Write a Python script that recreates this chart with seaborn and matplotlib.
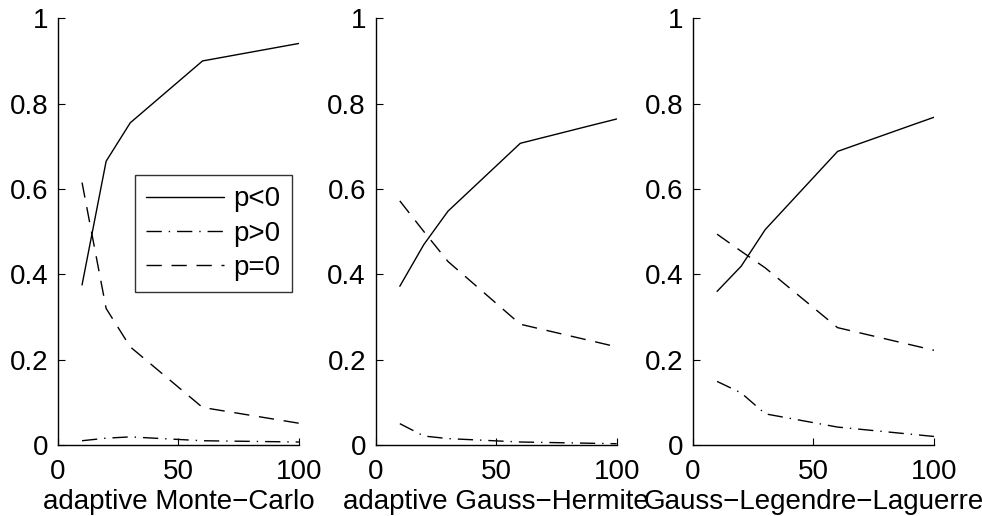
import pandas as pd
import matplotlib
matplotlib.use('Agg')
import matplotlib.pyplot as plt
import seaborn as sns

# sample sizes on the x axis
n = [10, 20, 30, 60, 100]

# adaptive Monte-Carlo
mc_neg = [0.375, 0.665, 0.755, 0.900, 0.941]
mc_pos = [0.010, 0.016, 0.019, 0.010, 0.007]
mc_zero = [0.615, 0.320, 0.230, 0.088, 0.051]

# adaptive Gauss-Hermite
gh_neg = [0.372, 0.470, 0.548, 0.707, 0.764]
gh_pos = [0.050, 0.021, 0.015, 0.007, 0.003]
gh_zero = [0.572, 0.500, 0.430, 0.283, 0.230]

# Gauss-Legendre-Laguerre
gl_neg = [0.360, 0.419, 0.505, 0.688, 0.768]
gl_pos = [0.149, 0.122, 0.073, 0.042, 0.020]
gl_zero = [0.494, 0.454, 0.415, 0.275, 0.222]

titles = ['adaptive Monte\u2212Carlo', 'adaptive Gauss\u2212Hermite', 'Gauss\u2212Legendre\u2212Laguerre']
series = ['p<0', 'p>0', 'p=0']
panels = [(mc_neg, mc_pos, mc_zero), (gh_neg, gh_pos, gh_zero), (gl_neg, gl_pos, gl_zero)]

sns.set_style('ticks')
plt.rcParams['font.family'] = ['Liberation Sans', 'DejaVu Sans']
plt.rcParams['xtick.direction'] = 'in'
plt.rcParams['ytick.direction'] = 'in'
plt.rcParams['text.color'] = 'black'
plt.rcParams['axes.labelcolor'] = 'black'

dash_map = {'p<0': '', 'p>0': (11, 5, 1, 5), 'p=0': (11, 7)}

fig = plt.figure(figsize=(9.82, 5.16), dpi=100)
lefts = [0.059, 0.3826, 0.7057]

for i, (title, vals) in enumerate(zip(titles, panels)):
    ax = fig.add_axes([lefts[i], 0.1376, 0.2454, 0.827])
    rows = []
    for s, v in zip(series, vals):
        for x, y in zip(n, v):
            rows.append({'n': x, 'val': y, 'series': s})
    df = pd.DataFrame(rows)
    sns.lineplot(data=df, x='n', y='val', style='series', dashes=dash_map,
                 color='black', linewidth=1.0, ax=ax, legend=(i == 0))
    ax.set_xlim(0, 100)
    ax.set_ylim(0, 1)
    ax.set_xticks([0, 50, 100])
    ax.set_yticks([0, 0.2, 0.4, 0.6, 0.8, 1])
    ax.set_yticklabels(['0', '0.2', '0.4', '0.6', '0.8', '1'])
    ax.tick_params(labelsize=20, length=5, width=0.8, colors='black', pad=7)
    ax.tick_params(axis='x', pad=10)
    ax.set_xlabel(title, fontsize=20, labelpad=3, color='black')
    ax.set_ylabel('')
    sns.despine(ax=ax)
    for sp in ['left', 'bottom']:
        ax.spines[sp].set_linewidth(1.0)
        ax.spines[sp].set_color('black')
    if i == 0:
        leg = ax.legend(loc='upper right', bbox_to_anchor=(0.97, 0.632), borderaxespad=0,
                        fontsize=20, handlelength=2.8, frameon=True, fancybox=False,
                        labelspacing=0.3, borderpad=0.4, handletextpad=0.35)
        leg.get_frame().set_edgecolor('black')
        leg.get_frame().set_linewidth(1.0)
        for line in leg.get_lines():
            line.set_color('black')

fig.savefig('out.png', dpi=100)
